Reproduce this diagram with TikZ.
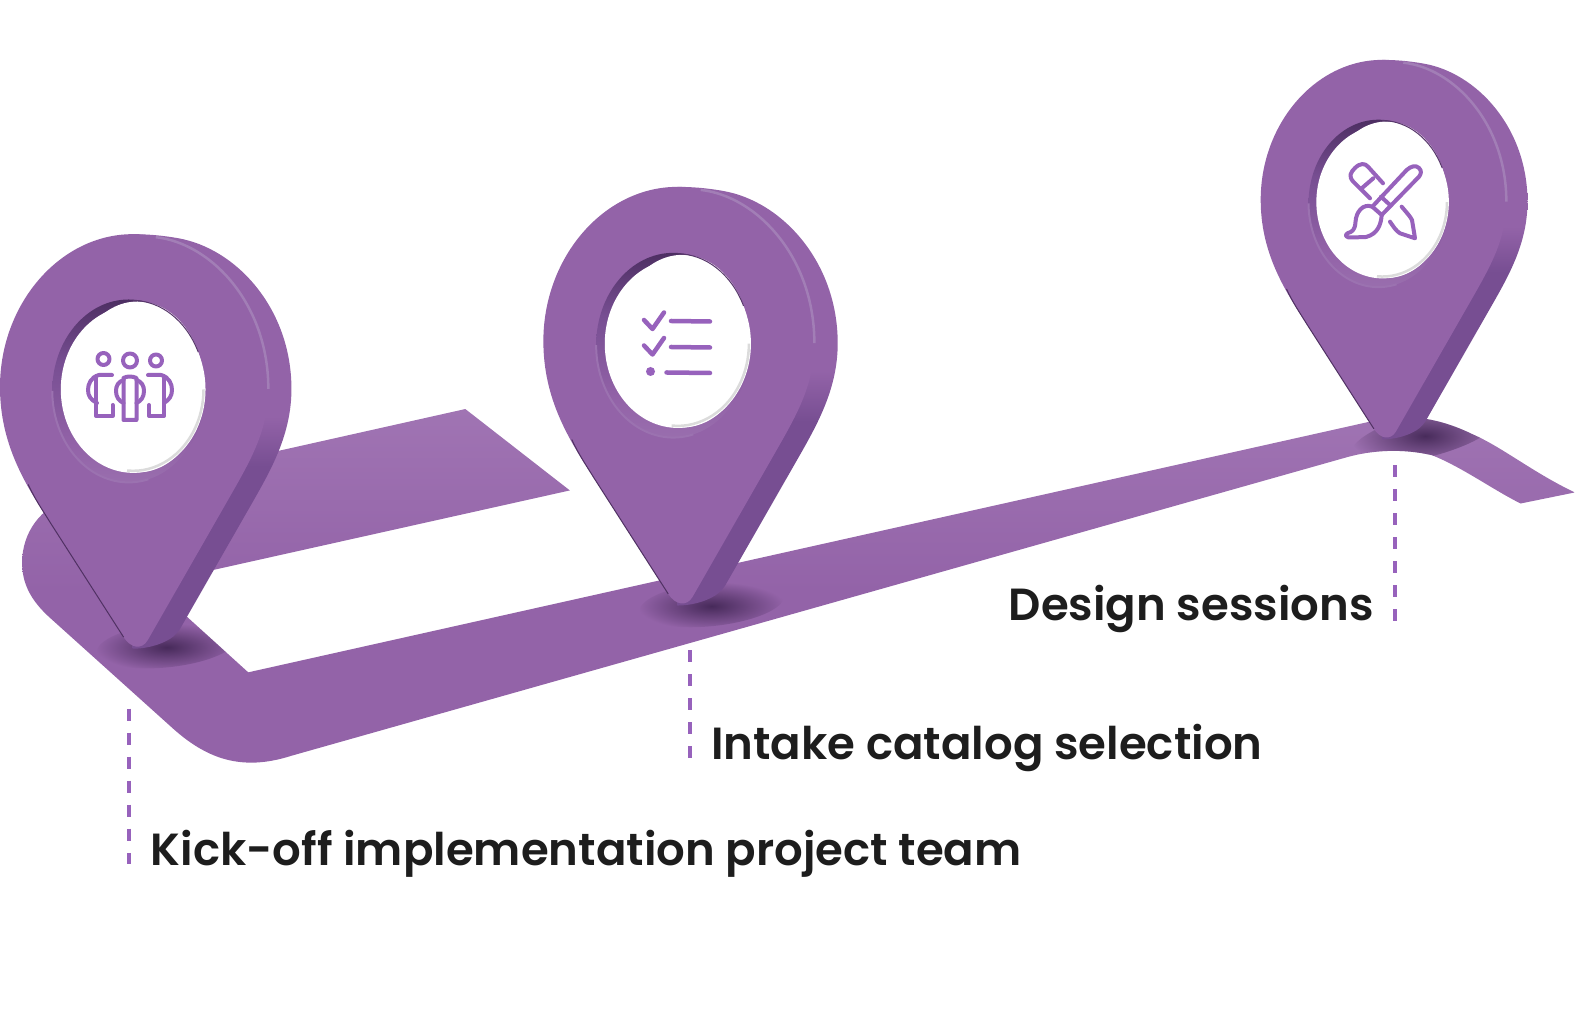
\documentclass[tikz,border=0pt]{standalone}
\usepackage{fontspec}
\setmainfont{Poppins}[BoldFont={Poppins SemiBold}]
\usetikzlibrary{fadings}
\definecolor{pinmain}{HTML}{9363A8}
\definecolor{pindark}{HTML}{774E92}
\definecolor{pinridge}{HTML}{A88ABC}
\definecolor{ribbonlight}{HTML}{A074B3}
\definecolor{shadowtone}{HTML}{3F2452}
\definecolor{iconline}{HTML}{9762BC}
\definecolor{labelink}{HTML}{1D1D1D}
\pgfdeclareverticalshading{pinside}{100bp}{color(0bp)=(pindark); color(47bp)=(pindark); color(53bp)=(pinmain); color(100bp)=(pinmain)}
\pgfdeclareverticalshading{holerim}{100bp}{color(0bp)=(pinridge); color(35bp)=(pinmain); color(58bp)=(pindark); color(75bp)=(shadowtone!75!pindark); color(100bp)=(shadowtone!75!pindark)}
\tikzfading[name=softshadow, inner color=transparent!10, outer color=transparent!100]
\newcommand{\ribbonpath}{(463,407) -- (70,495) .. controls (40,505) and (22,530) .. (22,560) .. controls (22,580) and (30,597) .. (50,615)
  -- (170,723) .. controls (205,755) and (240,768) .. (290,752) -- (1340,455) .. controls (1365,448) and (1395,446) .. (1425,453)
  .. controls (1455,465) and (1485,487) .. (1513,501) -- (1567,490) .. controls (1525,470) and (1495,445) .. (1465,432)
  .. controls (1430,415) and (1400,412) .. (1370,418) -- (247,669) -- (150,581) -- (567,488) -- cycle}
\tikzset{
  pinmark/.pic={
    \shade[shading=pinside] (-3,3.5) .. controls (10,3.5) and (22,0) .. (30,-4) .. controls (36,-7) and (40,-10) .. (44,-16) -- (115,-140)
      .. controls (135,-175) and (155,-210) .. (155,-255) .. controls (155,-335) and (100,-395) .. (42,-405) .. controls (25,-408) and (10,-409) .. (-3,-409) -- cycle;
    \fill[pinmain] (-12,-8) -- (-85,-122) .. controls (-110,-160) and (-135,-200) .. (-135,-257)
      .. controls (-135,-340) and (-75,-409) .. (-3,-409) .. controls (60,-409) and (132,-340) .. (132,-255)
      .. controls (132,-215) and (115,-185) .. (95,-150) -- (12,-5) .. controls (6,5) and (-5,3) .. (-12,-8) -- cycle;
    \draw[pinridge!70!pinmain, line width=0.025cm] (20,-406) .. controls (75,-400) and (132,-340) .. (132,-255);
    \draw[shadowtone!80!pinmain, line width=0.01cm] (-12,-8) -- (-85,-122) .. controls (-93,-135) and (-100,-145) .. (-107,-160);
    \shade[shading=holerim] (-7,-253) ellipse (76 and 91);
    \draw[pinridge!40!pinmain, line width=0.02cm] (-83,-253) arc[start angle=180, end angle=75, x radius=76, y radius=91];
    \fill[white] (-2.5,-254.5) ellipse (72 and 83);
    \fill[white] (2,-257) ellipse (66 and 85);
    \draw[black!14, line width=0.025cm] (67.5,-254.5) arc[start angle=0, end angle=95, x radius=70, y radius=81];
    \draw[shadowtone!70!pinmain, line width=0.01cm] (-3,-343) arc[start angle=-90, end angle=-25, x radius=72, y radius=89];
  },
  iconstroke/.style={draw=iconline, line width=0.04cm, line cap=round, line join=round},
  dashline/.style={draw=iconline, line width=0.04cm, dash pattern=on 0.12cm off 0.12cm},
  steplabel/.style={anchor=base west, inner sep=0pt, text=labelink, font=\bfseries\fontsize{12.8}{15}\selectfont}
}
\begin{document}
\begin{tikzpicture}[x=0.01cm, y=-0.01cm]
  \useasboundingbox (0,0) rectangle (1575,1013);

  \begin{scope}[scale=1.005]
    % road
    \shade[top color=ribbonlight, bottom color=pinmain, middle color=pinmain] \ribbonpath;
    \begin{scope}
      \clip \ribbonpath;
      \fill[shadowtone, path fading=softshadow, rotate around={6:(166,642)}] (166,642) ellipse (70 and 22);
      \fill[shadowtone, path fading=softshadow, rotate around={6:(708,601)}] (708,601) ellipse (72 and 22);
      \fill[shadowtone, path fading=softshadow, rotate around={14:(1418,433)}] (1418,433) ellipse (75 and 22);
    \end{scope}

    % pins
    \pic[scale=1.005] at (135,642) {pinmark};
    \pic[scale=1.015] at (677,599) {pinmark};
    \pic[scale=0.92] at (1378,434) {pinmark};

    % ticks and labels
    \coordinate (tick1a) at (128,705);
    \coordinate (tick1b) at (128,860);
    \coordinate (tick2a) at (686,647);
    \coordinate (tick2b) at (686,755);
    \coordinate (tick3a) at (1388,463);
    \coordinate (tick3b) at (1388,618);
    \draw[dashline] (tick1a) -- (tick1b);
    \draw[dashline] (tick2a) -- (tick2b);
    \draw[dashline] (tick3a) -- (tick3b);
    \node[steplabel] (kickoff) at (149.5,861) {Kick-off implementation project team};
    \node[steplabel] (intake) at (707,756) {Intake catalog selection};
    \node[steplabel] (design) at (1003,617) {Design sessions};
  \end{scope}

  % team icon
  \draw[iconstroke] (103.5,359) circle (6) (130,360.5) circle (7) (156,360.5) circle (6);
  \draw[iconstroke] (112,375) -- (99,375) .. controls (91,377) and (88,384) .. (88,390) .. controls (88,396) and (91,400) .. (97,403);
  \draw[iconstroke] (96,378) -- (96,416) -- (112.5,416) -- (112.5,405);
  \draw[iconstroke] (148,375) -- (161,375) .. controls (169,377) and (172,384) .. (172,390) .. controls (172,396) and (169,400) .. (164,403);
  \draw[iconstroke] (164,378) -- (164,416) -- (149,416) -- (149,405);
  \draw[iconstroke] (123.5,378) -- (123.5,420) -- (136.5,420) -- (136.5,378) .. controls (132,376) and (127,376) .. (123.5,378);
  \draw[iconstroke] (123.5,380) .. controls (118,382) and (116,386) .. (116,391) .. controls (116,397) and (119,401) .. (123.5,403);
  \draw[iconstroke] (136.5,380) .. controls (142,382) and (144,386) .. (144,391) .. controls (144,397) and (141,401) .. (136.5,403);

  % checklist icon
  \draw[iconstroke, line width=0.045cm] (644,320) -- (652.5,329) -- (664,312.5);
  \draw[iconstroke, line width=0.045cm] (644,345.5) -- (652.5,354.5) -- (664,338);
  \draw[iconstroke, line width=0.045cm] (671,321) -- (710,321.5) (671,347) -- (710,347.5) (666.5,372.5) -- (710,373);
  \fill[iconline] (650.5,371.5) circle (4.5);

  % design icon
  \draw[iconstroke] (1372.3,206.7) -- (1406.7,170) .. controls (1411,166) and (1416,165) .. (1419,168) .. controls (1422,171) and (1421,174) .. (1419,176.7) -- (1381.7,215) -- cycle;
  \draw[iconstroke] (1381,196.7) -- (1390,205);
  \draw[iconstroke] (1372.3,206.7) .. controls (1363,203) and (1356,212) .. (1355.5,222) .. controls (1355,230) and (1352,232) .. (1348,233)
    .. controls (1344,235) and (1346,238) .. (1351.7,237.5) -- (1366,237) .. controls (1378,234) and (1381,224) .. (1381.7,215);
  \draw[iconstroke] (1370,198.3) -- (1353.3,181.7) .. controls (1348,176) and (1351,172) .. (1355,168) .. controls (1360,163) and (1365,163) .. (1368,166.7) -- (1383,183.3);
  \draw[iconstroke] (1361.7,188.3) -- (1373.3,178.3);
  \draw[iconstroke] (1401.7,206.7) .. controls (1406,212) and (1410,216) .. (1412,220) -- (1415,238.3) -- (1400,233.3) .. controls (1396,231) and (1393,226) .. (1390,221.7);
\end{tikzpicture}
\end{document}
